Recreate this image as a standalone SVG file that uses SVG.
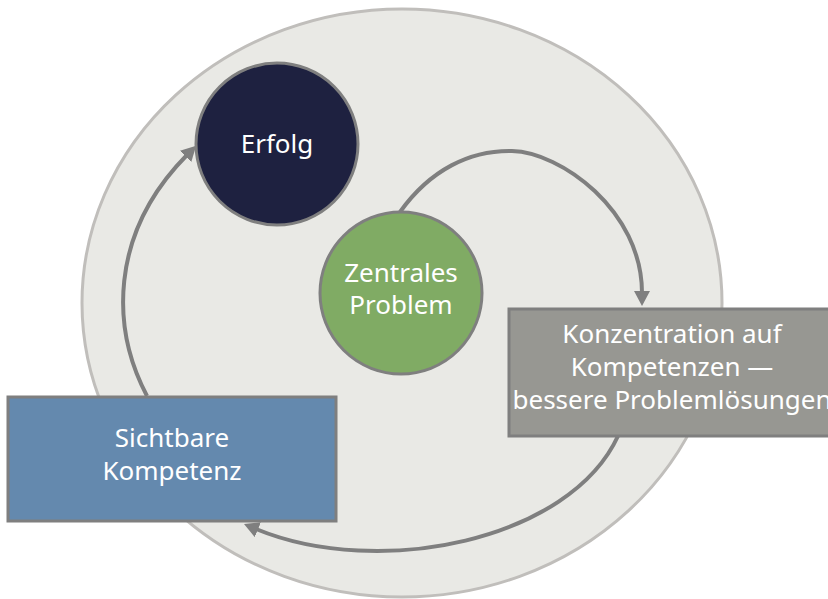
<svg xmlns="http://www.w3.org/2000/svg" width="828" height="599" viewBox="0 0 828 599">
  <style>
    .lbl { font-family: "Noto Sans", "Open Sans", sans-serif; font-size: 26px; fill: #ffffff; text-anchor: middle; }
    .edge { fill: none; stroke: #7f7f7f; stroke-width: 4; }
    .node-line { stroke: #7f7f7f; stroke-width: 3; }
  </style>
  <defs>
    <marker id="arrow" markerUnits="userSpaceOnUse" markerWidth="16" markerHeight="16" viewBox="0 0 16 16" refX="2" refY="8" orient="auto">
      <path d="M0,0 L15,8 L0,16 Z" fill="#7f7f7f"/>
    </marker>
  </defs>

  <!-- background disc -->
  <ellipse cx="402" cy="303" rx="320" ry="294" fill="#e9e9e5" stroke="#c0bebb" stroke-width="3"/>

  <!-- connectors -->
  <g id="connectors">
    <path class="edge" d="M400,212 C430,170 470,150 512,151 C560,152 642,210 642,293" marker-end="url(#arrow)"/>
    <path class="edge" d="M618,436 C570,540 380,580 256,529" marker-end="url(#arrow)"/>
    <path class="edge" d="M147,396 C112,330 108,235 187,155" marker-end="url(#arrow)"/>
  </g>

  <g id="erfolg">
    <circle class="node-line" cx="277" cy="144" r="81" fill="#1e2140"/>
    <text class="lbl" x="277" y="153">Erfolg</text>
  </g>

  <g id="zentrales-problem">
    <circle class="node-line" cx="401" cy="293" r="81" fill="#80ab64"/>
    <text class="lbl" x="401" y="282">Zentrales</text>
    <text class="lbl" x="401" y="314">Problem</text>
  </g>

  <g id="konzentration">
    <rect class="node-line" x="509" y="309" width="328" height="127" fill="#979792"/>
    <text class="lbl" x="672" y="343">Konzentration auf</text>
    <text class="lbl" x="672" y="376">Kompetenzen —</text>
    <text class="lbl" x="672" y="409">bessere Problemlösungen</text>
  </g>

  <g id="sichtbare-kompetenz">
    <rect class="node-line" x="8" y="397" width="328" height="124" fill="#6489ae"/>
    <text class="lbl" x="172" y="447">Sichtbare</text>
    <text class="lbl" x="172" y="480">Kompetenz</text>
  </g>
</svg>
